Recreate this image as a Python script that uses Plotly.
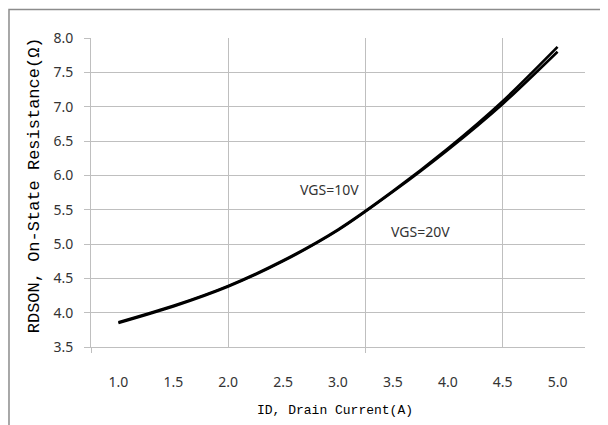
import plotly.graph_objects as go

# Data
drain_current = [1.0, 1.5, 2.0, 2.5, 3.0, 3.5, 4.0, 4.5, 5.0]
x_tick_labels = ["1.0", "1.5", "2.0", "2.5", "3.0", "3.5", "4.0", "4.5", "5.0"]
rdson_vgs10 = [3.86, 4.10, 4.39, 4.76, 5.21, 5.77, 6.39, 7.08, 7.87]
rdson_vgs20 = [3.85, 4.09, 4.38, 4.75, 5.20, 5.76, 6.37, 7.04, 7.80]
series_names = ["VGS=10V", "VGS=20V"]

GRID = "#bfbfbf"
TICKFONT = dict(family="Noto Sans", size=14, color="#333333")
TITLEFONT = dict(family="Liberation Mono", size=13, color="#000000")

fig = go.Figure()
for name, vals in zip(series_names, [rdson_vgs10, rdson_vgs20]):
    fig.add_trace(go.Scatter(
        x=drain_current, y=vals, name=name, mode="lines",
        line=dict(color="#000000", width=2.6, shape="spline", smoothing=0.8),
        hoverinfo="skip", showlegend=False,
    ))
# helper empty traces so the overlay axes are drawn
fig.add_trace(go.Scatter(x=[], y=[], xaxis="x2", showlegend=False, hoverinfo="skip"))
fig.add_trace(go.Scatter(x=[], y=[], xaxis="x3", showlegend=False, hoverinfo="skip"))

xr = [0.75, 5.25]
fig.update_layout(
    width=600, height=417,
    margin=dict(l=83, r=23, t=30, b=78),
    paper_bgcolor="white", plot_bgcolor="white",
    xaxis=dict(range=xr, tickvals=drain_current, ticktext=x_tick_labels,
               showgrid=False, zeroline=False, showline=True, linecolor=GRID,
               linewidth=1, ticks="", tickfont=TICKFONT, ticklabelstandoff=22),
    xaxis2=dict(range=xr, overlaying="x", side="bottom", tickvals=[2.0, 3.25, 4.5],
                showgrid=True, gridcolor=GRID, gridwidth=1, showticklabels=False,
                ticks="", zeroline=False, showline=False),
    xaxis3=dict(range=xr, overlaying="x", side="bottom", tickvals=[0.75, 3.25],
                showgrid=False, showticklabels=False, ticks="outside", ticklen=5,
                tickcolor=GRID, zeroline=False, showline=False),
    yaxis=dict(range=[3.5, 8.0], tick0=3.5, dtick=0.5, tickformat=".1f",
               showgrid=True, gridcolor=GRID, gridwidth=1, zeroline=False,
               showline=True, linecolor=GRID, ticks="outside", ticklen=6,
               tickcolor=GRID, tickfont=TICKFONT, ticklabelstandoff=8),
    shapes=[dict(type="rect", xref="paper", yref="paper",
                 x0=-0.166, x1=1.3, y0=-0.5, y1=1.092,
                 line=dict(color="#8c8c8c", width=1.5), fillcolor="rgba(0,0,0,0)",
                 layer="below")],
    annotations=[
        dict(text="ID, Drain Current(A)", xref="paper", yref="paper",
             x=0.494, y=-0.205, showarrow=False, font=TITLEFONT,
             xanchor="center", yanchor="middle"),
        dict(text="RDSON, On-State Resistance(Ω)", xref="paper", yref="paper",
             x=-0.115, y=0.524, showarrow=False, textangle=-90,
             font=dict(family="Liberation Mono", size=17, color="#000000"),
             xanchor="center", yanchor="middle"),
        dict(text=series_names[0], x=2.92, y=5.80, showarrow=False,
             font=dict(family="Noto Sans", size=14, color="#333333")),
        dict(text=series_names[1], x=3.755, y=5.175, showarrow=False,
             font=dict(family="Noto Sans", size=14, color="#333333")),
    ],
)

fig.write_html("out.html")
